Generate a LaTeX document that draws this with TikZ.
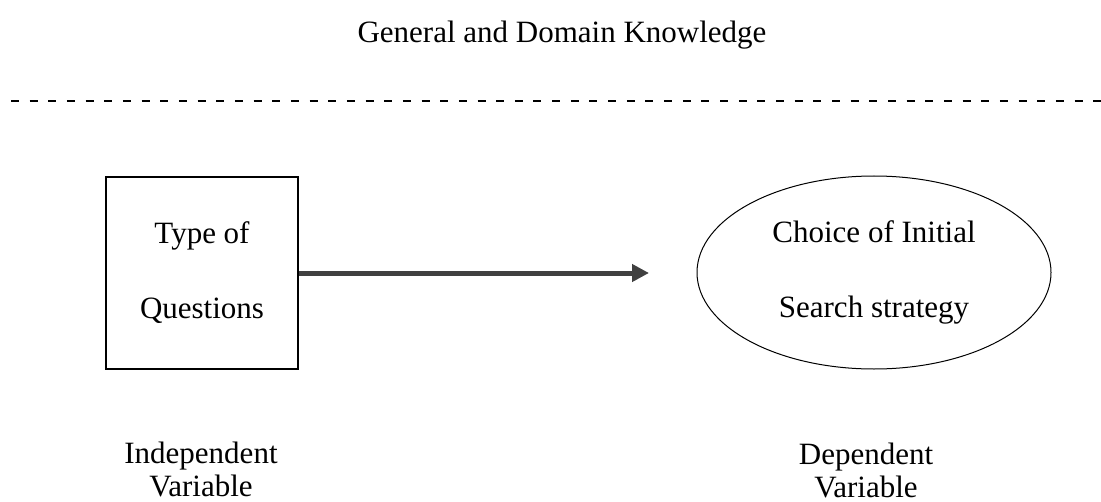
\documentclass[tikz,border=0pt]{standalone}
\usepackage{fontspec}
\setmainfont{Liberation Serif}
\usetikzlibrary{arrows.meta, shapes.geometric}

\begin{document}
\begin{tikzpicture}[x=0.5pt, y=-0.5pt,
    txt/.style={font=\fontsize{15.5}{37.5}\selectfont, align=center},
    varlabel/.style={font=\fontsize{15.5}{16.5}\selectfont, align=center},
    qbox/.style={draw, line width=0.75pt, minimum width=96pt, minimum height=96pt, inner sep=0pt},
    choice/.style={draw, ellipse, line width=0.5pt, minimum width=177pt, minimum height=96.5pt, inner sep=0pt},
    flow/.style={-{Triangle[length=8.5pt, width=8.5pt]}, line width=2.5pt, black!75}]
    \useasboundingbox (0,0) rectangle (1101,502);
    \node[anchor=base, font=\fontsize{15.5}{18}\selectfont] (knowledge) at (562,43) {General and Domain Knowledge};
    \coordinate (dashL) at (11,101.5);
    \coordinate (dashR) at (1101,101.5);
    \draw[line width=1pt, dash pattern=on 4pt off 5.33pt] (dashL) -- (dashR);
    \node[qbox, txt] (questions) at (202,273) {Type of\\Questions};
    \node[choice, txt] (strategy) at (874,272.5) {Choice of Initial\\Search strategy};
    \coordinate (tip) at (649,273);
    \draw[flow] (questions.east) -- (tip);
    \node[varlabel] (indep) at (201,469) {Independent\\Variable};
    \node[varlabel] (dep) at (866,470) {Dependent\\Variable};
\end{tikzpicture}
\end{document}
